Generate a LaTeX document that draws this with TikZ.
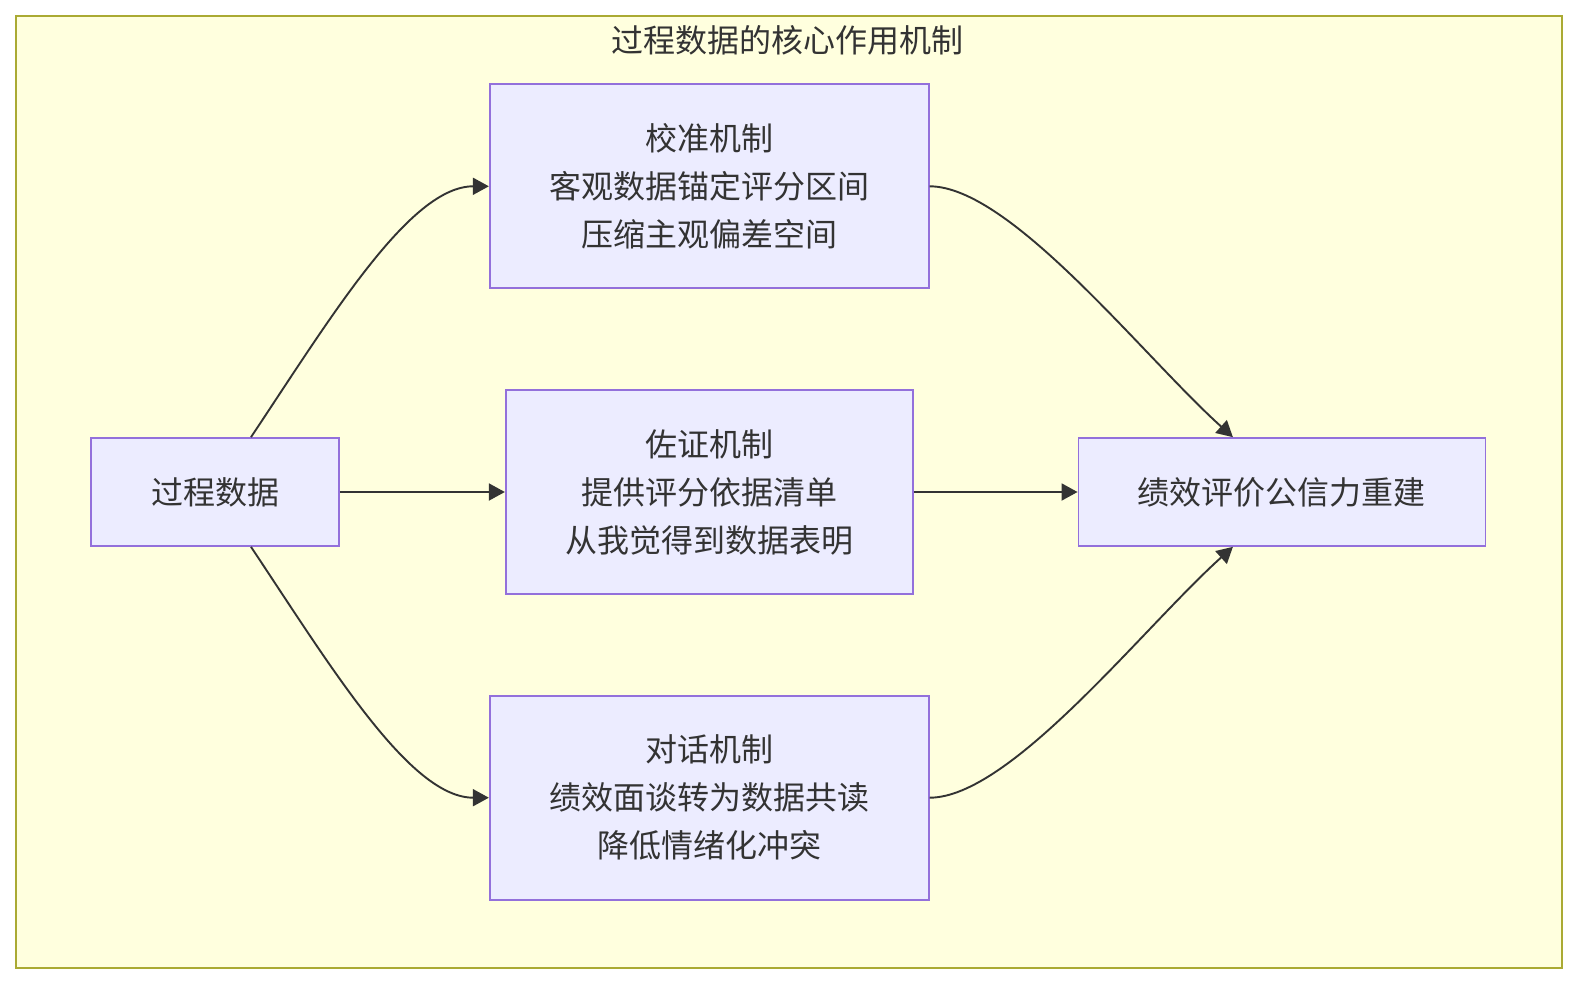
\documentclass[tikz,border=0pt]{standalone}
\usepackage{fontspec}
\setmainfont{Noto Sans CJK SC}
\usetikzlibrary{positioning,arrows.meta}
\definecolor{frameFill}{HTML}{FFFFDE}
\definecolor{frameLine}{HTML}{AAAA33}
\definecolor{boxFill}{HTML}{ECECFF}
\definecolor{boxLine}{HTML}{9370DB}
\definecolor{ink}{HTML}{333333}

\begin{document}
\begin{tikzpicture}[x=1pt, y=1pt, node distance=50pt and 82.5pt, font=\fontsize{16}{24}\selectfont]
\tikzstyle{box} = [rectangle, draw=boxLine, fill=boxFill, line width=0.85pt, text=ink, align=center, inner sep=0pt, minimum height=102pt]
\tikzstyle{flow} = [draw=ink, line width=0.95pt, -{Triangle[length=8pt,width=8.5pt]}]

\useasboundingbox (0,0) rectangle (789,-492);
\draw[frameLine, fill=frameFill, line width=0.85pt] (8,-8) rectangle (781,-484);
\node[text=ink] (title) at (393.5,-20) {过程数据的核心作用机制};

\node [box, minimum width=124pt, minimum height=54pt] (src) at (107.5,-246) {过程数据};
\node [box, minimum width=203.5pt, right=of src] (proof) {佐证机制\\提供评分依据清单\\从我觉得到数据表明};
\node [box, minimum width=219.5pt, above=of proof] (calib) {校准机制\\客观数据锚定评分区间\\压缩主观偏差空间};
\node [box, minimum width=219.5pt, below=of proof] (talk) {对话机制\\绩效面谈转为数据共读\\降低情绪化冲突};
\node [box, minimum width=203.5pt, minimum height=54pt, right=82pt of proof] (trust) {绩效评价公信力重建};

\draw [flow] ([xshift=18pt]src.north) .. controls +(40pt,60pt) and +(-39.5pt,0pt) .. (calib.west);
\draw [flow] (src) -- (proof);
\draw [flow] ([xshift=18pt]src.south) .. controls +(40pt,-60pt) and +(-39.5pt,0pt) .. (talk.west);
\draw [flow] (calib.east) .. controls +(40.5pt,0pt) and +(-45pt,40.5pt) .. ([xshift=-24.5pt]trust.north);
\draw [flow] (proof) -- (trust);
\draw [flow] (talk.east) .. controls +(40.5pt,0pt) and +(-45pt,-40.5pt) .. ([xshift=-24.5pt]trust.south);

\end{tikzpicture}
\end{document}
